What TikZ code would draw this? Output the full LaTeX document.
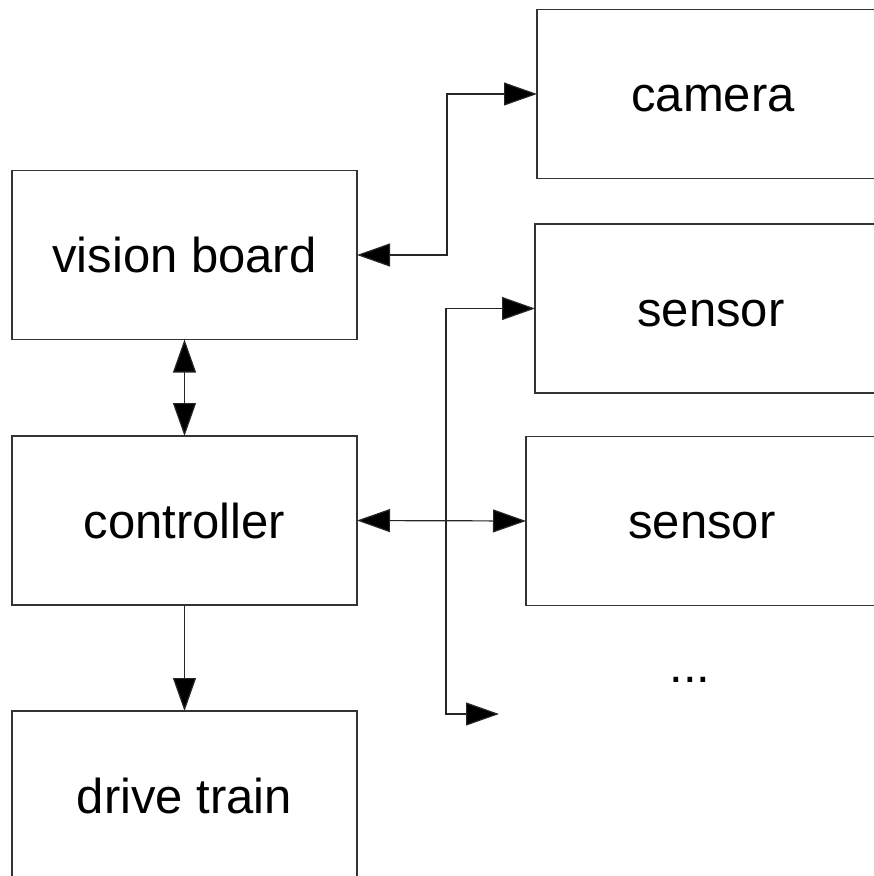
\documentclass[tikz,border=0pt]{standalone}
\usepackage{fontspec}
\setmainfont{Liberation Sans}
\usetikzlibrary{arrows.meta}
\begin{document}
\begin{tikzpicture}[x=1pt, y=-1pt,
  >={Triangle[length=33pt,width=23pt,fill=black]},
  wire/.style={draw=black!85, line width=1.2pt},
  label text/.style={font=\fontsize{49}{58}\selectfont, text height=35pt, text depth=0pt},
  block/.style={draw=black!80, line width=1.2pt, rectangle, outer sep=0pt,
    inner sep=0pt, minimum height=169pt, label text},
  leftblock/.style={block, minimum width=345pt},
  rightblock/.style={block, minimum width=352pt}]
  \useasboundingbox (0,0) rectangle (874,876);
  \clip (0,0) rectangle (874,876);

  % left column
  \node[leftblock] (vb)  at (184.5,255)   {vision board};
  \node[leftblock] (ctl) at (184.5,520.5) {controller};
  \node[leftblock] (dt)  at (184.5,795.5) {drive train};

  % right column
  \node[rightblock] (cam) at (713,94)    {camera};
  \node[rightblock] (s1)  at (711,308.5) {sensor};
  \node[rightblock] (s2)  at (702,521)   {sensor};
  \node[label text, inner sep=0pt] (dots) at (690,664.5) {...};

  % open end of the sensor bus
  \coordinate (busend) at (499,714);

  % connectors
  \draw[wire, <->] (vb.east) -- ++(90,0) |- (cam.west);
  \draw[wire, <->] (vb.south) -- (ctl.north);
  \draw[wire, ->]  (ctl.south) -- (dt.north);
  \draw[wire, <->] (ctl.east) -- (s2.west);
  \draw[wire, <->] (s1.west) -- ++(-89,0) |- (busend);
\end{tikzpicture}
\end{document}
